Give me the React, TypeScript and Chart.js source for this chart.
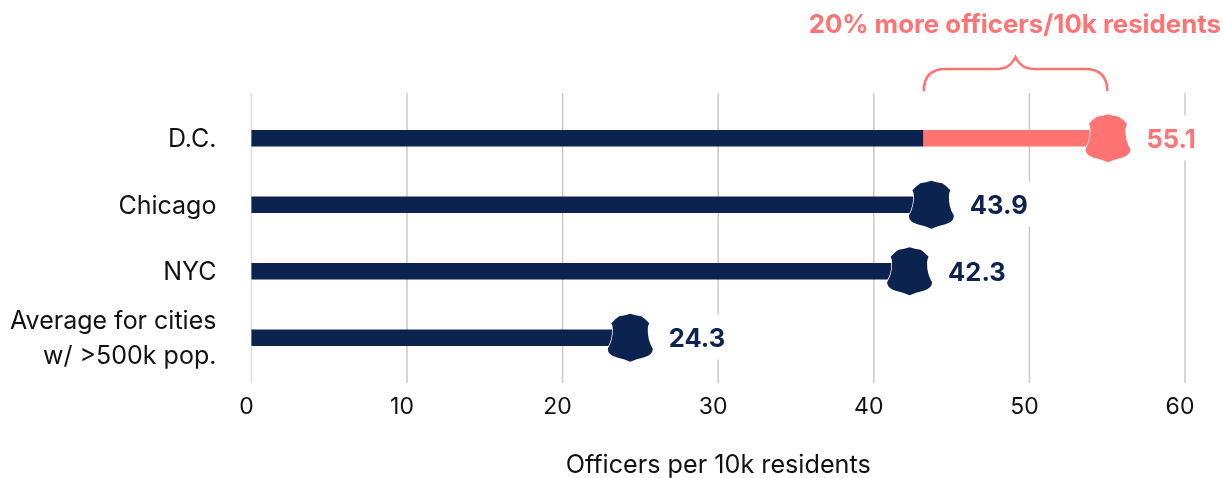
import React, { useEffect, useRef } from "react";
import { Chart, registerables } from "chart.js";

Chart.register(...registerables);

const categories: (string | string[])[] = ["D.C.", "Chicago", "NYC", ["Average for cities", "w/ >500k pop."]];
const valueLabels = ["55.1", "43.9", "42.3", "24.3"];
const markerValues = [55.05, 43.7, 42.3, 24.35];
const baseValues = [43.15, 43.7, 42.3, 24.35];
const excessValues = [11.9, 0, 0, 0];
const bracketRange = [43.15, 55.1];
const annotation = "20% more officers/10k residents";
const axisTitle = "Officers per 10k residents";

const NAVY = "#0d234f";
const CORAL = "#ff7373";
const FONT = "Inter, 'Noto Sans', sans-serif";

function shieldPath(ctx: CanvasRenderingContext2D, cx: number, cy: number) {
  const p = (x: number, y: number): [number, number] => [cx + x, cy + y];
  ctx.beginPath();
  ctx.moveTo(...p(0, -24));
  ctx.quadraticCurveTo(...p(-5, -22.5), ...p(-11, -21.5));
  ctx.quadraticCurveTo(...p(-15, -19), ...p(-19, -14.5));
  ctx.quadraticCurveTo(...p(-17.5, -12), ...p(-17.5, -9));
  ctx.quadraticCurveTo(...p(-17, 2), ...p(-22.5, 11));
  ctx.quadraticCurveTo(...p(-22.5, 17), ...p(-14, 19.5));
  ctx.quadraticCurveTo(...p(-6, 21), ...p(0, 24));
  ctx.quadraticCurveTo(...p(6, 21), ...p(14, 19.5));
  ctx.quadraticCurveTo(...p(22.5, 17), ...p(22.5, 11));
  ctx.quadraticCurveTo(...p(17, 2), ...p(17.5, -9));
  ctx.quadraticCurveTo(...p(17.5, -12), ...p(19, -14.5));
  ctx.quadraticCurveTo(...p(15, -19), ...p(11, -21.5));
  ctx.quadraticCurveTo(...p(5, -22.5), ...p(0, -24));
  ctx.closePath();
}

const decorPlugin = {
  id: "decor",
  beforeDatasetsDraw(chart: any) {
    const { ctx, scales } = chart;
    ctx.save();
    ctx.lineWidth = 1.5;
    scales.x.ticks.forEach((t: any) => {
      const x = scales.x.getPixelForValue(t.value);
      ctx.strokeStyle = t.value === 0 ? "#dedede" : "#c9c9c9";
      ctx.beginPath();
      ctx.moveTo(x, 93);
      ctx.lineTo(x, 383);
      ctx.stroke();
    });
    ctx.restore();
  },
  afterDatasetsDraw(chart: any) {
    const { ctx, scales } = chart;
    ctx.save();
    markerValues.forEach((v, i) => {
      const color = i === 0 ? CORAL : NAVY;
      const x = scales.x.getPixelForValue(v);
      const y = scales.y.getPixelForValue(i);
      const label = valueLabels[i];
      ctx.font = `700 25.5px ${FONT}`;
      const w = ctx.measureText(label).width;
      ctx.fillStyle = "#fff";
      ctx.fillRect(x + 32, y - 23, w + 12, 45);
      shieldPath(ctx, x, y);
      ctx.fillStyle = color;
      ctx.strokeStyle = "#fff";
      ctx.lineWidth = 1.5;
      ctx.stroke();
      ctx.fill();
      ctx.fillStyle = color;
      ctx.textAlign = "left";
      ctx.textBaseline = "middle";
      ctx.fillText(label, x + 38.5, y + 2);
    });
    const x0 = scales.x.getPixelForValue(bracketRange[0]) + 1;
    const x1 = scales.x.getPixelForValue(bracketRange[1]) - 1.5;
    const mid = (x0 + x1) / 2;
    ctx.strokeStyle = CORAL;
    ctx.lineWidth = 2.5;
    ctx.beginPath();
    ctx.moveTo(x0, 91);
    ctx.bezierCurveTo(x0, 76, x0 + 8, 69, x0 + 22, 69);
    ctx.lineTo(mid - 20, 69);
    ctx.bezierCurveTo(mid - 9, 69, mid - 4, 65, mid, 57);
    ctx.bezierCurveTo(mid + 4, 65, mid + 9, 69, mid + 20, 69);
    ctx.lineTo(x1 - 22, 69);
    ctx.bezierCurveTo(x1 - 8, 69, x1, 76, x1, 91);
    ctx.stroke();
    ctx.fillStyle = CORAL;
    ctx.font = `700 25.8px ${FONT}`;
    ctx.textAlign = "right";
    ctx.textBaseline = "middle";
    ctx.fillText(annotation, 1221, 25);
    ctx.restore();
  },
};

export default function App() {
  const ref = useRef<HTMLCanvasElement>(null);
  useEffect(() => {
    document.body.style.margin = "0";
    const chart = new Chart(ref.current!, {
      type: "bar",
      data: {
        labels: categories as any,
        datasets: [
          { data: baseValues, backgroundColor: NAVY, barThickness: 16, stack: "a" },
          { data: excessValues, backgroundColor: CORAL, barThickness: 16, stack: "a" },
        ],
      },
      options: {
        indexAxis: "y",
        animation: false,
        responsive: false,
        layout: { padding: { top: 105, right: 40, left: 0, bottom: 0 } },
        plugins: { legend: { display: false }, tooltip: { enabled: false }, title: { display: false } },
        scales: {
          x: {
            type: "linear",
            min: 0,
            max: 60,
            stacked: true,
            grid: { display: false },
            border: { display: false },
            afterFit(s: any) { s.height = 107; },
            ticks: {
              stepSize: 10,
              color: "#111",
              padding: 14,
              labelOffset: -5,
              maxRotation: 0,
              font: { family: FONT, size: 23 },
            },
            title: {
              display: true,
              text: axisTitle,
              color: "#111",
              font: { family: FONT, size: 25.2 },
              padding: { top: 0, bottom: -3 },
            },
          },
          y: {
            type: "category",
            stacked: true,
            grid: { display: false },
            border: { display: false },
            afterFit(s: any) { s.width = 251.4; },
            ticks: {
              autoSkip: false,
              color: "#111",
              padding: 27,
              labelOffset: 1.5,
              font: { family: FONT, size: 25, lineHeight: 1.4 },
            },
          },
        },
      } as any,
      plugins: [decorPlugin],
    });
    return () => chart.destroy();
  }, []);
  return <canvas ref={ref} width={1225} height={478} style={{ display: "block" }} />;
}
